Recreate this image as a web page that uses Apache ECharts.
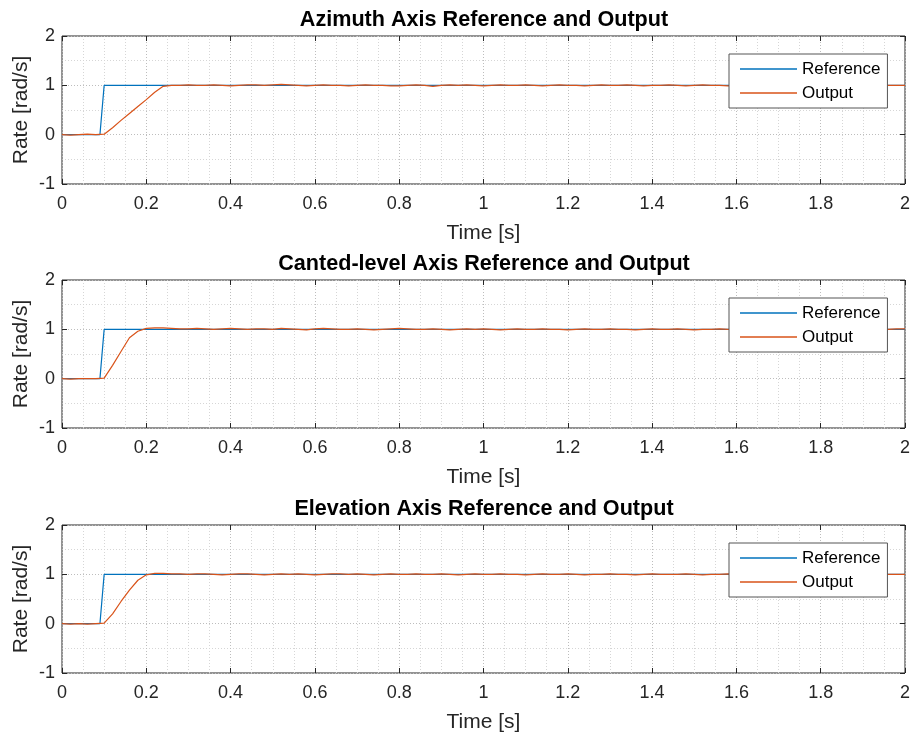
<!DOCTYPE html>
<html>
<head>
<meta charset="utf-8">
<script src="https://cdn.jsdelivr.net/npm/echarts@6/dist/echarts.min.js"></script>
<style>
  html, body { margin: 0; padding: 0; background: #fff; }
  #chart { width: 914px; height: 737px; }
</style>
</head>
<body>
<div id="chart"></div>
<script>
// titles of the three panels
var titles = [
    'Azimuth Axis Reference and Output',
    'Canted-level Axis Reference and Output',
    'Elevation Axis Reference and Output'
];

// reference step command (same for every axis)
var refTime = [0, 0.09, 0.1, 2];
var refRate = [0, 0, 1, 1];

// output samples, every 0.02 s from 0 to 2 s
var outStep = 0.02;
var outAz = [
    0, -0.01, 0, 0.01, 0, 0.01,
    0.14, 0.29, 0.43, 0.57, 0.71, 0.86, 0.98, 1.0,
    1.00, 1.01, 1.00, 1.00, 1.01, 1.00, 0.99, 1.00, 1.01, 1.01,
    1.00, 1.01, 1.02, 1.01, 1.00, 0.99, 1.00, 1.01, 1.00, 1.00,
    0.99, 1.00, 1.01, 1.00, 1.00, 0.99, 0.99, 1.00, 1.01, 1.00,
    0.98, 1.00, 1.01, 1.00, 1.01, 1.00, 0.99, 1.00, 1.01, 1.00,
    1.00, 1.01, 1.00, 0.99, 1.00, 1.01, 1.00, 1.00, 0.99, 1.00,
    1.01, 1.00, 1.00, 1.01, 1.00, 0.99, 1.00, 1.00, 1.01, 1.00,
    0.99, 1.00, 1.01, 1.00, 1.00, 0.99, 1.00, 1.01, 1.00, 1.00,
    1.00, 1.01, 1.00, 0.99, 1.00, 1.00, 1.01, 1.00, 1.00, 1.00,
    1.01, 1.00, 0.99, 1.00, 1.00, 1.00, 1.00
];
var outCl = [
    0, -0.01, 0, 0, 0, 0.01,
    0.27, 0.55, 0.83, 0.96, 1.02, 1.03, 1.03, 1.02,
    1.01, 1.01, 1.02, 1.01, 1.00, 1.01, 1.02, 1.01, 1.00, 1.01,
    1.01, 1.00, 1.02, 1.01, 1.00, 0.99, 1.01, 1.02, 1.01, 1.00,
    1.00, 1.01, 1.00, 0.99, 1.00, 1.01, 1.02, 1.01, 1.00, 1.00,
    1.01, 1.00, 0.99, 1.00, 1.01, 1.00, 1.01, 1.00, 0.99, 1.00,
    1.01, 1.00, 1.00, 1.01, 1.00, 1.00, 0.99, 1.00, 1.01, 1.00,
    1.00, 1.01, 1.00, 1.00, 0.99, 1.00, 1.01, 1.00, 1.00, 1.01,
    1.00, 0.99, 1.00, 1.00, 1.01, 1.00, 1.00, 1.01, 1.00, 1.00,
    1.00, 1.00, 1.01, 1.00, 1.00, 1.00, 1.01, 1.00, 1.00, 1.00,
    1.00, 1.01, 1.00, 1.00, 1.00, 1.01, 1.01
];
var outEl = [
    0, -0.01, 0, -0.01, 0, 0.01,
    0.2, 0.45, 0.68, 0.88, 0.99, 1.02, 1.02, 1.01,
    1.01, 1.00, 1.01, 1.01, 1.00, 0.99, 1.00, 1.01, 1.01, 1.00,
    0.99, 1.00, 1.01, 1.00, 1.01, 1.00, 0.99, 1.00, 1.01, 1.01,
    1.00, 1.01, 1.00, 0.99, 1.00, 1.01, 1.00, 1.00, 1.01, 1.00,
    1.00, 1.01, 1.00, 0.99, 1.00, 1.01, 1.00, 1.00, 1.01, 1.00,
    1.00, 0.99, 1.00, 1.01, 1.00, 1.00, 1.01, 1.00, 0.99, 1.00,
    1.00, 1.01, 1.00, 1.00, 0.99, 1.00, 1.01, 1.00, 1.00, 1.00,
    1.01, 1.00, 0.99, 1.00, 1.00, 1.01, 1.00, 1.00, 1.00, 1.01,
    1.00, 1.00, 0.99, 1.00, 1.00, 1.01, 1.00, 1.00, 1.00, 1.00,
    1.00, 1.01, 1.00, 1.00, 1.00, 1.00, 1.00
];
var outputs = [outAz, outCl, outEl];

// axis ranges / ticks
var xMin = 0, xMax = 2, xStep = 0.2;
var yMin = -1, yMax = 2, yStep = 1;

(function () {
    var blue = '#0072BD';
    var orange = '#D95319';
    var axisColor = '#262626';
    var font = '"Liberation Sans", Arial, Helvetica, sans-serif';

    var myChart = echarts.init(document.getElementById('chart'));

    var gridTops = [36, 280, 525];
    var gridH = 148;

    var option = {
        backgroundColor: '#fff',
        animation: false,
        title: [], grid: [], xAxis: [], yAxis: [], legend: [], series: []
    };

    function pairs(t, v) {
        var d = [];
        for (var i = 0; i < v.length; i++) d.push([t[i], v[i]]);
        return d;
    }

    for (var p = 0; p < 3; p++) {
        var gTop = gridTops[p];
        var outTime = [];
        for (var k = 0; k < outputs[p].length; k++) outTime.push(+(k * outStep).toFixed(2));

        option.title.push({
            text: titles[p],
            left: 479, top: gTop - 32,
            textAlign: 'center',
            textStyle: { fontFamily: font, fontSize: 21.6, fontWeight: 'bold', color: '#000' }
        });
        option.grid.push({
            left: 62, right: 9, top: gTop, height: gridH,
            show: true, borderColor: axisColor, borderWidth: 1
        });
        // bottom x axis with labels and grid lines
        option.xAxis.push({
            type: 'value', gridIndex: p, min: xMin, max: xMax, interval: xStep,
            name: 'Time [s]', nameLocation: 'middle', nameGap: 39,
            nameTextStyle: { fontFamily: font, fontSize: 21, color: '#262626' },
            axisLine: { show: false, onZero: false },
            axisTick: { inside: true, length: 5, lineStyle: { color: axisColor } },
            axisLabel: { margin: 11, fontFamily: font, fontSize: 18, color: '#262626',
                formatter: function (v) { return String(+v.toFixed(1)); } },
            splitLine: { show: true, lineStyle: { color: '#bdbdbd', type: [1, 2] } },
            minorTick: { show: false, splitNumber: 4 },
            minorSplitLine: { show: true, lineStyle: { color: '#d6d6d6', type: [1, 2] } }
        });
        // top x axis, ticks only
        option.xAxis.push({
            type: 'value', gridIndex: p, min: xMin, max: xMax, interval: xStep, position: 'top',
            axisLine: { show: false, onZero: false },
            axisTick: { inside: true, length: 5, lineStyle: { color: axisColor } },
            axisLabel: { show: false }, splitLine: { show: false }
        });
        option.yAxis.push({
            type: 'value', gridIndex: p, min: yMin, max: yMax, interval: yStep,
            name: 'Rate [rad/s]', nameLocation: 'middle', nameGap: 30,
            nameMoveOverlap: false,
            nameTextStyle: { fontFamily: font, fontSize: 21, color: '#262626' },
            axisLine: { show: false, onZero: false },
            axisTick: { inside: true, length: 5, lineStyle: { color: axisColor } },
            axisLabel: { margin: 7, fontFamily: font, fontSize: 18, color: '#262626' },
            splitLine: { show: true, lineStyle: { color: '#bdbdbd', type: [1, 2] } },
            minorTick: { show: false, splitNumber: 2 },
            minorSplitLine: { show: true, lineStyle: { color: '#d6d6d6', type: [1, 2] } }
        });
        // right y axis, ticks only
        option.yAxis.push({
            type: 'value', gridIndex: p, min: yMin, max: yMax, interval: yStep, position: 'right',
            axisLine: { show: false, onZero: false },
            axisTick: { inside: true, length: 5, lineStyle: { color: axisColor } },
            axisLabel: { show: false }, splitLine: { show: false }
        });
        option.legend.push({
            orient: 'vertical', left: 729, top: gTop + 18,
            data: ['Reference', 'Output'],
            selectedMode: false,
            icon: 'rect', itemWidth: 57, itemHeight: 1.5, itemGap: 4,
            padding: [5, 7, 5, 11],
            backgroundColor: '#fff', borderColor: '#555', borderWidth: 1,
            textStyle: { fontFamily: font, fontSize: 17, color: '#000', lineHeight: 20 }
        });
        option.series.push({
            name: 'Reference', type: 'line', xAxisIndex: p * 2, yAxisIndex: p * 2,
            data: pairs(refTime, refRate), showSymbol: false, symbol: 'none',
            lineStyle: { color: blue, width: 1.2 }, itemStyle: { color: blue }
        });
        option.series.push({
            name: 'Output', type: 'line', xAxisIndex: p * 2, yAxisIndex: p * 2,
            data: pairs(outTime, outputs[p]), showSymbol: false, symbol: 'none',
            lineStyle: { color: orange, width: 1.2 }, itemStyle: { color: orange }
        });
    }

    myChart.setOption(option);
})();
</script>
</body>
</html>
